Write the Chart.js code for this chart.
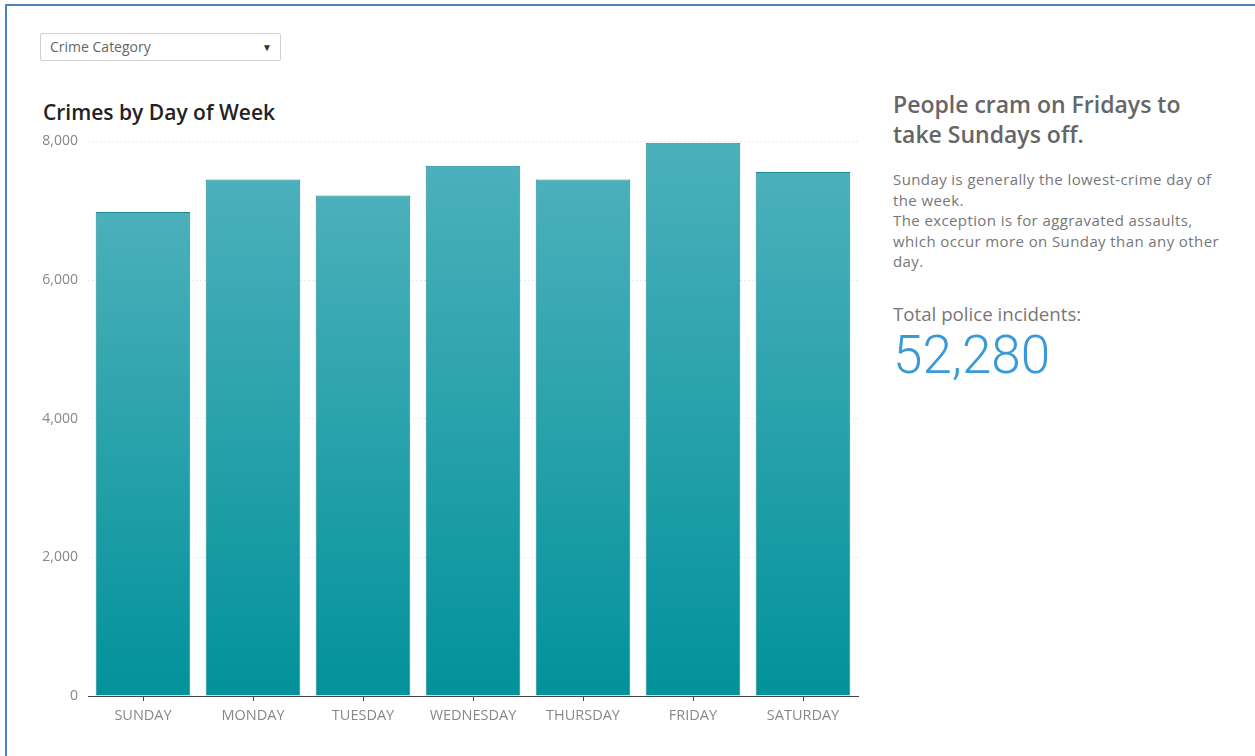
<!DOCTYPE html>
<html>
<head>
<meta charset="utf-8">
<script src="https://cdn.jsdelivr.net/npm/chart.js@4.4.1/dist/chart.umd.min.js"></script>
<style>
  html, body { margin:0; padding:0; background:#fff; }
  body { width:1255px; height:756px; position:relative; overflow:hidden; font-family: "Open Sans", sans-serif; }
  .frame { position:absolute; left:5px; top:4px; width:1260px; height:800px; border-left:2px solid #4F81BD; border-top:2px solid #4F81BD; }
  .dropdown { position:absolute; left:40px; top:33px; width:239px; height:26px; border:1px solid #d0d0d0; border-radius:2px; }
  .dropdown span.t { position:absolute; left:9px; top:3px; font-size:14px; color:#666; }
  .dropdown span.a { position:absolute; right:8px; top:6px; font-size:10px; color:#333; }
  .title { position:absolute; left:43px; top:98px; font-size:21px; font-weight:600; color:#222; line-height:28px; }
  #wrap { position:absolute; left:30px; top:123px; width:830px; height:613px; }
  .side { position:absolute; left:893px; }
  .h2 { top:89px; width:350px; font-size:23px; line-height:30px; font-weight:600; color:#666; }
  .p { top:169px; width:335px; font-size:15px; letter-spacing:0.4px; line-height:20.5px; color:#777; }
  .lbl { top:302px; font-size:18.7px; line-height:24px; color:#777; }
  .num { top:324px; font-family: Roboto, "Open Sans", sans-serif; font-size:53px; line-height:62px; color:#3A9AD9; font-weight:300; }
</style>
</head>
<body>
<div class="frame"></div>
<div class="dropdown"><span class="t">Crime Category</span><span class="a">&#9660;</span></div>
<div class="title">Crimes by Day of Week</div>
<div id="wrap"><canvas id="c"></canvas></div>
<div class="side h2">People cram on Fridays to<br>take Sundays off.</div>
<div class="side p">Sunday is generally the lowest-crime day of the week.<br>The exception is for aggravated assaults, which occur more on Sunday than any other day.</div>
<div class="side lbl">Total police incidents:</div>
<div class="side num">52,280</div>
<script>
const days = ["SUNDAY","MONDAY","TUESDAY","WEDNESDAY","THURSDAY","FRIDAY","SATURDAY"];
const crimes = [6980, 7450, 7220, 7650, 7450, 7980, 7560];
const yTicks = [0, 2000, 4000, 6000, 8000];

const ctx = document.getElementById('c');
new Chart(ctx, {
  type: 'bar',
  data: {
    labels: days,
    datasets: [{
      data: crimes,
      backgroundColor: (c) => {
        const chart = c.chart;
        const ca = chart.chartArea;
        if (!ca || c.raw === undefined) return '#2aa3ab';
        const yTop = chart.scales.y.getPixelForValue(c.raw);
        const g = chart.ctx.createLinearGradient(0, yTop, 0, ca.bottom);
        g.addColorStop(0, '#4BB0BB');
        g.addColorStop(1, '#02929A');
        return g;
      },
      borderColor: '#1A8A91',
      borderWidth: 1,
      barPercentage: 0.86,
      categoryPercentage: 1.0
    }]
  },
  options: {
    responsive: true,
    maintainAspectRatio: false,
    animation: false,
    layout: { padding: { top: 10, right: 2, left: 0, bottom: 0 } },
    plugins: { legend: { display: false }, tooltip: { enabled: false } },
    scales: {
      x: {
        grid: { drawOnChartArea: false, drawTicks: true, tickLength: 5, color: '#444', offset: false },
        border: { display: true, color: '#444', width: 1 },
        ticks: { color: '#888', font: { family: 'Open Sans', size: 14.5 }, padding: 6, maxRotation: 0 },
        afterFit: (s) => { s.height = 40; }
      },
      y: {
        min: 0, max: 8000,
        afterBuildTicks: (s) => { s.ticks = yTicks.map(v => ({ value: v })); },
        grid: { color: '#ebebeb', drawTicks: false, lineWidth: 1 },
        border: { display: false, dash: [2, 2] },
        ticks: {
          color: '#888', font: { family: 'Open Sans', size: 14 }, padding: 10,
          callback: (v) => v.toLocaleString('en-US')
        },
        afterFit: (s) => { s.width = 58; }
      }
    }
  }
});
</script>
</body>
</html>
